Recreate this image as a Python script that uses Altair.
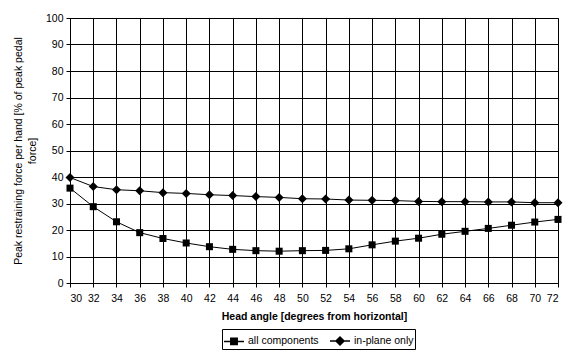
import altair as alt
import pandas as pd

angles = [30, 32, 34, 36, 38, 40, 42, 44, 46, 48, 50, 52, 54, 56, 58, 60, 62, 64, 66, 68, 70, 72]
all_components = [35.8, 28.8, 23.1, 19.0, 16.8, 15.1, 13.7, 12.7, 12.2, 12.0, 12.2, 12.3, 12.9, 14.4, 15.8, 16.9, 18.4, 19.5, 20.6, 21.8, 23.0, 24.0]
in_plane_only = [39.8, 36.4, 35.2, 34.8, 34.1, 33.8, 33.3, 33.0, 32.6, 32.3, 31.8, 31.7, 31.3, 31.2, 31.1, 30.8, 30.7, 30.7, 30.6, 30.6, 30.3, 30.3]
series_names = ["all components", "in-plane only"]
x_ticks = list(range(30, 73, 2))
y_ticks = list(range(0, 101, 10))

rows = []
for a, v in zip(angles, all_components):
    rows.append({"angle": a, "value": v, "series": series_names[0]})
for a, v in zip(angles, in_plane_only):
    rows.append({"angle": a, "value": v, "series": series_names[1]})
df = pd.DataFrame(rows)

FONT = "Liberation Sans"

x_enc = alt.X("angle:Q", scale=alt.Scale(domain=[30, 72], nice=False),
              axis=alt.Axis(values=x_ticks, title="Head angle [degrees from horizontal]",
                            titleFontWeight="bold", titleFontSize=10.5, labelFontSize=10.5,
                            tickSize=4, labelPadding=6, titlePadding=8))
y_enc = alt.Y("value:Q", scale=alt.Scale(domain=[0, 100], nice=False),
              axis=alt.Axis(values=y_ticks,
                            title=["Peak restraining force per hand [% of peak pedal", "force]"],
                            titleFontWeight="normal", titleFontSize=10.5, labelFontSize=10.5,
                            tickSize=4, labelPadding=3, titlePadding=8, titleLineHeight=14))

lines = alt.Chart(df).mark_line(color="black", strokeWidth=1).encode(
    x=x_enc, y=y_enc, detail="series:N"
)

sq_path = "M-0.78,-0.78L0.78,-0.78L0.78,0.78L-0.78,0.78Z"
dm_path = "M0,-1L1,0L0,1L-1,0Z"
leg_sq = "M-1,0L1,0M-0.32,-0.32L0.32,-0.32L0.32,0.32L-0.32,0.32Z"
leg_dm = "M-1,0L1,0M0,-0.4L0.4,0L0,0.4L-0.4,0Z"

points = alt.Chart(df).mark_point(filled=True, color="black", size=81, opacity=1).encode(
    x=x_enc, y=y_enc,
    shape=alt.Shape("series:N", scale=alt.Scale(domain=series_names, range=[sq_path, dm_path]),
                    legend=None)
)

legend_layer = alt.Chart(df).mark_point(filled=True, color="black", size=400, opacity=0,
                                        stroke="black", strokeWidth=1).encode(
    x=x_enc, y=y_enc,
    shape=alt.Shape("series:N", scale=alt.Scale(domain=series_names, range=[leg_sq, leg_dm]),
                    legend=alt.Legend(
                        title=None, orient="none", legendX=152, legendY=311,
                        direction="horizontal", strokeColor="black", padding=1,
                        symbolSize=400, symbolOpacity=1,
                        labelFontSize=10.5, labelOffset=3, columnPadding=8))
)

chart = alt.layer(lines, points, legend_layer).resolve_scale(shape="independent").properties(
    width=488, height=265,
    autosize=alt.AutoSizeParams(type="none"),
    padding={"left": 70, "top": 18, "right": 18, "bottom": 70},
    background="white"
).configure_view(
    stroke="#808080", strokeWidth=1
).configure_axis(
    grid=True, gridColor="black", gridOpacity=1, gridWidth=1,
    domainColor="black", tickColor="black", labelColor="black", titleColor="black",
    labelFont=FONT, titleFont=FONT
).configure_legend(
    labelFont=FONT, labelColor="black"
)

chart.save("out.html", embed_options={"renderer": "svg", "actions": False})
